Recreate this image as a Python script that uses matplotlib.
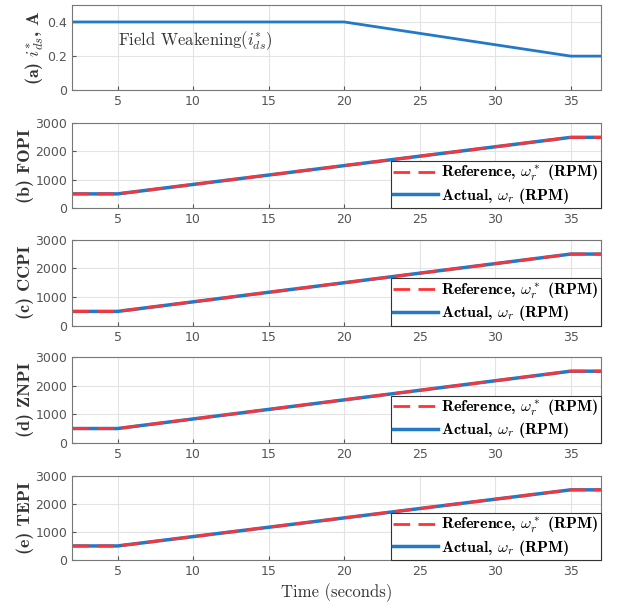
import numpy as np
import matplotlib.pyplot as plt

plt.rcParams['mathtext.fontset'] = 'cm'
plt.rcParams['axes.unicode_minus'] = False

# dados
t_ids = [2, 20, 35, 37]
ids_ref = [0.4, 0.4, 0.2, 0.2]

t_vel = [2, 5, 35, 37]
vel_ref = [500, 500, 2500, 2500]
vel_act = [500, 500, 2500, 2500]

rotulos = ['(b) FOPI', '(c) CCPI', '(d) ZNPI', '(e) TEPI']

azul = '#2479c6'
verm = '#ff3333'
cinza = '#555555'
serif_n = ['cmr10', 'DejaVu Serif']
serif_b = ['cmb10', 'DejaVu Serif']

fig = plt.figure(figsize=(6.28, 6.10), dpi=100)
esq, larg = 0.115, 0.842
posicoes = [(0.852, 0.140), (0.659, 0.139), (0.466, 0.141), (0.274, 0.141), (0.082, 0.138)]

def estilo(ax):
    ax.set_xlim(2, 37)
    ax.set_xticks([5, 10, 15, 20, 25, 30, 35])
    ax.grid(True, color='#e3e3e3', lw=0.8)
    ax.tick_params(colors=cinza, labelsize=9, direction='in', length=3)
    for s in ax.spines.values():
        s.set_color('#777777')
        s.set_linewidth(0.8)

# painel (a)
ax = fig.add_axes([esq, posicoes[0][0], larg, posicoes[0][1]])
ax.plot(t_ids, ids_ref, color=azul, lw=2)
ax.set_ylim(0, 0.5)
ax.set_yticks([0, 0.2, 0.4])
ax.set_yticklabels(['0', '0.2', '0.4'])
estilo(ax)
ax.text(5.0, 0.29, r'Field Weakening($i^{*}_{ds}$)', fontsize=12, family=serif_n,
        color='#333333', va='center')
ax.set_ylabel(r'(a) $i^{*}_{ds}$, A', fontsize=13, family=serif_b, color='#333333', labelpad=1)

# paineis de velocidade
for i, rot in enumerate(rotulos):
    b, h = posicoes[i + 1]
    ax = fig.add_axes([esq, b, larg, h])
    ax.plot(t_vel, vel_act, color=azul, lw=2.5, label=r'Actual, $\omega_r$ (RPM)')
    ax.plot(t_vel, vel_ref, color=verm, lw=2, ls=(0, (6, 3)), label=r'Reference, $\omega^*_r$ (RPM)')
    ax.set_ylim(0, 3000)
    ax.set_yticks([0, 1000, 2000, 3000])
    estilo(ax)
    ax.set_ylabel(rot, fontsize=13, family=serif_b, color='#333333', labelpad=1)
    hs, ls = ax.get_legend_handles_labels()
    leg = ax.legend(hs[::-1], ls[::-1], loc='lower right', bbox_to_anchor=(1.0, 0.0),
                    borderaxespad=0,
                    prop={'family': serif_b, 'size': 11.5},
                    fancybox=False, framealpha=1, edgecolor='#333333',
                    handlelength=2.8, handletextpad=0.2, borderpad=0.15, labelspacing=0.15)
    leg.get_frame().set_linewidth(0.8)
    if i == 3:
        ax.set_xlabel('Time (seconds)', fontsize=12, family=serif_n, color='#333333')

fig.savefig('out.png', dpi=100)
